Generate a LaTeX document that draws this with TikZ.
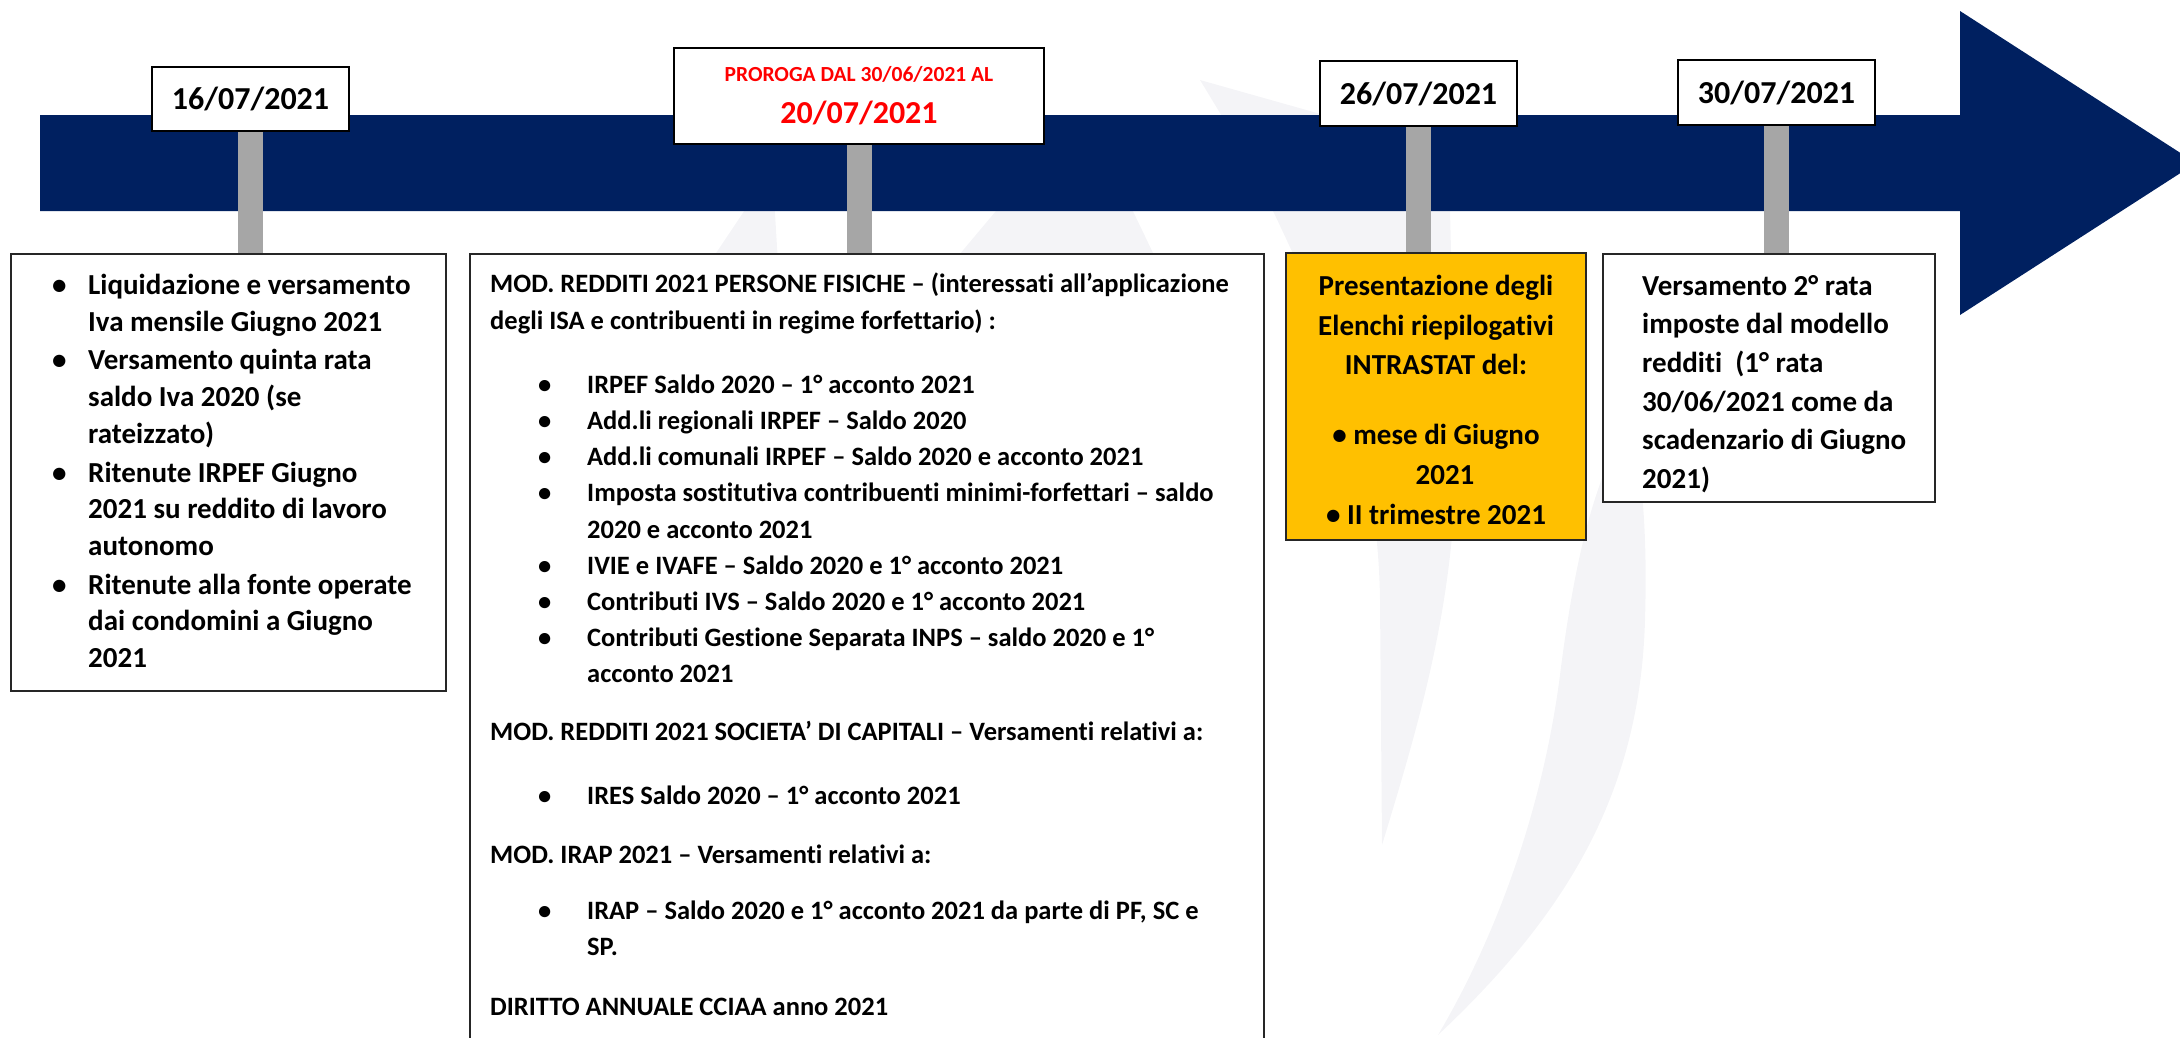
\documentclass[tikz,border=0pt]{standalone}
\usepackage{fontspec}
\setmainfont{Carlito}[Ligatures=NoCommon]

\definecolor{navy}{HTML}{002060}
\definecolor{gold}{HTML}{FFC000}
\definecolor{polegray}{HTML}{A6A6A6}
\definecolor{wmark}{HTML}{F4F4F7}
\definecolor{prored}{HTML}{FF0000}

\newcommand{\itm}[2]{\hspace*{#1}\makebox[#2][l]{\textbullet}}
\newcommand{\cnt}[1]{\hspace*{#1}}

\tikzset{
  panel/.style={draw=black!85, line width=1.6pt, fill=white, inner sep=0pt},
  datebox/.style={draw=black, line width=2pt, fill=white, inner sep=0pt,
    minimum width=197pt, minimum height=65pt, font=\bfseries\fontsize{32}{38}\selectfont},
  pole/.style={draw=polegray, line width=25pt},
  txt/.style={inner sep=0pt, align=left},
}

\begin{document}
\begin{tikzpicture}[x=1pt,y=-1pt]
\useasboundingbox (0,0) rectangle (2180,1037);
\clip (0,0) rectangle (2180,1037);
% faint logo in the background
\fill[wmark] (1200,80) -- (1317,113) .. controls (1400,140) and (1445,180) .. (1450,211)
  -- (1456,450) .. controls (1456,600) and (1420,720) .. (1382,845)
  -- (1380,600) .. controls (1378,450) and (1330,330) .. (1273,211) -- (1220,113) -- cycle;
\fill[wmark] (1605,470) .. controls (1590,510) and (1575,560) .. (1561,667)
  .. controls (1545,800) and (1500,930) .. (1438,1035)
  .. controls (1560,920) and (1640,800) .. (1645,620)
  .. controls (1648,520) and (1640,460) .. (1630,420) -- cycle;
\fill[wmark] (1022,180) -- (1118,180) -- (1166,280) -- (938,280) -- cycle;
\fill[wmark] (765,180) -- (773,180) -- (779,280) -- (698,280) -- cycle;
% timeline arrow
\fill[navy] (40,115) -- (1960,115) -- (1960,11) -- (2196,163) -- (1960,315)
  -- (1960,211) -- (40,211) -- cycle;

% boxes under the line
\node[panel, minimum width=435pt, minimum height=437pt, anchor=north west] (liq) at (10,253) {};
\node[panel, minimum width=794pt, minimum height=830pt, anchor=north west] (red) at (469,253) {};
\node[panel, fill=gold, line width=2pt, minimum width=300pt, minimum height=287pt, anchor=north west] (intra) at (1285,252) {};
\node[panel, minimum width=332pt, minimum height=248pt, anchor=north west] (rata) at (1602,253) {};

% dates
\node[datebox, minimum height=64pt] (d16) at (250.5,99) {16/07/2021};
\node[datebox, minimum width=370pt, minimum height=96pt, text=prored, align=center] (d20) at (859,96)
  {{\fontsize{21.5}{26}\selectfont PROROGA DAL 30/06/2021 AL}\\[4pt]20/07/2021};
\node[datebox] (d26) at (1418.5,93.5) {26/07/2021};
\node[datebox] (d30) at (1776.5,92.5) {30/07/2021};

\foreach \d/\b in {d16/liq, d20/red, d26/intra, d30/rata}
  \draw[pole] (\d.south) -- (\d.south |- \b.north);

% texts
\node[txt, anchor=north west, font=\bfseries\fontsize{29}{36.7}\selectfont] (liqtxt)
  at ([shift={(42,21)}]liq.north west) {%
\itm{0pt}{36pt}Liquidazione e versamento\\
\cnt{36pt}Iva mensile Giugno 2021\\[2pt]
\itm{0pt}{36pt}Versamento quinta rata\\
\cnt{36pt}saldo Iva 2020 (se\\
\cnt{36pt}rateizzato)\\[2pt]
\itm{0pt}{36pt}Ritenute IRPEF Giugno\\
\cnt{36pt}2021 su reddito di lavoro\\
\cnt{36pt}autonomo\\[2pt]
\itm{0pt}{36pt}Ritenute alla fonte operate\\
\cnt{36pt}dai condomini a Giugno\\
\cnt{36pt}2021};

\node[txt, anchor=north west, font=\bfseries\fontsize{26.5}{36.2}\selectfont] (redtxt)
  at ([shift={(21,20)}]red.north west) {%
MOD. REDDITI 2021 PERSONE FISICHE – (interessati all’applicazione\\
degli ISA e contribuenti in regime forfettario) :\\[28pt]
\itm{48pt}{49pt}IRPEF Saldo 2020 – 1° acconto 2021\\
\itm{48pt}{49pt}Add.li regionali IRPEF – Saldo 2020\\
\itm{48pt}{49pt}Add.li comunali IRPEF – Saldo 2020 e acconto 2021\\
\itm{48pt}{49pt}Imposta sostitutiva contribuenti minimi-forfettari – saldo\\
\cnt{97pt}2020 e acconto 2021\\
\itm{48pt}{49pt}IVIE e IVAFE – Saldo 2020 e 1° acconto 2021\\
\itm{48pt}{49pt}Contributi IVS – Saldo 2020 e 1° acconto 2021\\
\itm{48pt}{49pt}Contributi Gestione Separata INPS – saldo 2020 e 1°\\
\cnt{97pt}acconto 2021\\[21pt]
MOD. REDDITI 2021 SOCIETA’ DI CAPITALI – Versamenti relativi a:\\[28pt]
\itm{48pt}{49pt}IRES Saldo 2020 – 1° acconto 2021\\[23pt]
MOD. IRAP 2021 – Versamenti relativi a:\\[20pt]
\itm{48pt}{49pt}IRAP – Saldo 2020 e 1° acconto 2021 da parte di PF, SC e\\
\cnt{97pt}SP.\\[23pt]
DIRITTO ANNUALE CCIAA anno 2021};

\node[txt, align=center, anchor=north, font=\bfseries\fontsize{29}{39.6}\selectfont] (intratxt)
  at ([shift={(0,23)}]intra.north) {%
Presentazione degli\\
Elenchi riepilogativi\\
INTRASTAT del:\\[30.5pt]
\textbullet\ mese di Giugno\\
\hspace*{18pt}2021\\
\textbullet\ II trimestre 2021};

\node[txt, anchor=north west, font=\bfseries\fontsize{29}{38.6}\selectfont] (ratatxt)
  at ([shift={(40,22)}]rata.north west) {%
Versamento 2° rata\\
imposte dal modello\\
redditi\ \ (1° rata\\
30/06/2021 come da\\
scadenzario di Giugno\\
2021)};
\end{tikzpicture}
\end{document}
